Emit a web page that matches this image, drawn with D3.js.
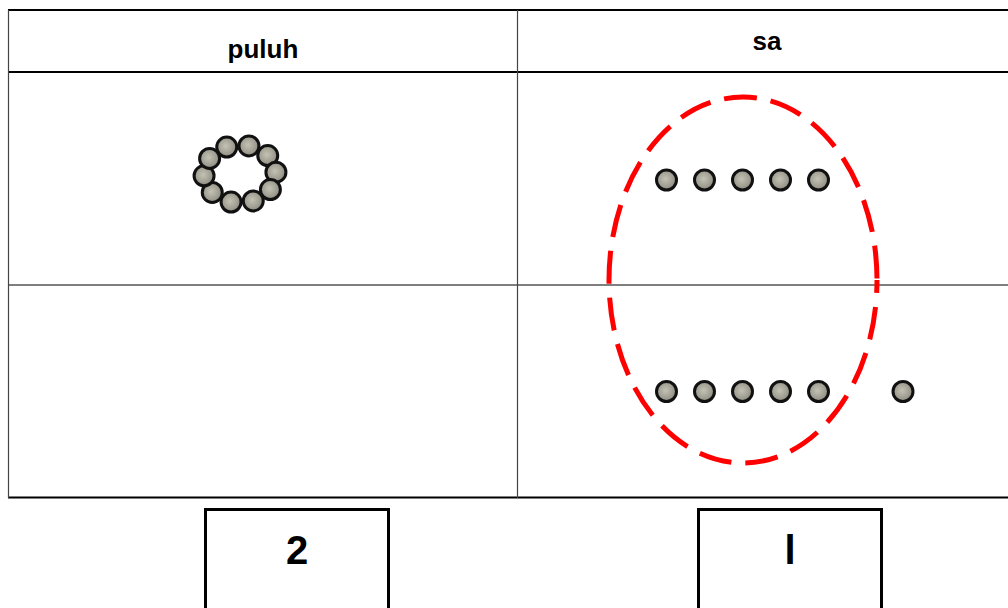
<!DOCTYPE html>
<html>
<head>
<meta charset="utf-8">
<script src="https://cdn.jsdelivr.net/npm/d3@7"></script>
<style>
  html, body { margin: 0; padding: 0; background: #fff; }
  svg { display: block; }
</style>
</head>
<body>
<svg id="chart" width="1008" height="608"></svg>
<script>
// ---- data ----
const headers = ["puluh", "sa"];
const answers = ["2", "l"];
const tensRingBeads = 10;           // one ten: a ring of 10 beads
const onesRows = [5, 6];            // loose ones: 5 on top row, 6 on bottom row

const svg = d3.select("#chart");
const W = 1008, H = 608;

// gradient for beads
const defs = svg.append("defs");
const grad = defs.append("radialGradient").attr("id", "bead").attr("cx", "45%").attr("cy", "45%").attr("r", "60%");
grad.append("stop").attr("offset", "0%").attr("stop-color", "#c4c2b4");
grad.append("stop").attr("offset", "70%").attr("stop-color", "#9c9a8e");
grad.append("stop").attr("offset", "100%").attr("stop-color", "#7e7c72");

const rowY = d3.scaleOrdinal().domain(["top", "header", "row1", "row2"]).range([10, 72, 285, 497.5]);

// lines
const g = svg.append("g");
[["top", 2.2], ["header", 2], ["row2", 2.2]].forEach(([k, w]) => {
  g.append("line").attr("x1", 8).attr("x2", W).attr("y1", rowY(k)).attr("y2", rowY(k))
    .attr("stroke", "#000").attr("stroke-width", w);
});
g.append("line").attr("x1", 8).attr("x2", W).attr("y1", rowY("row1")).attr("y2", rowY("row1"))
  .attr("stroke", "#000").attr("stroke-width", 1.2);
g.append("line").attr("x1", 8.5).attr("x2", 8.5).attr("y1", 10).attr("y2", 498)
  .attr("stroke", "#444").attr("stroke-width", 1.2);
g.append("line").attr("x1", 517.5).attr("x2", 517.5).attr("y1", 10).attr("y2", 498)
  .attr("stroke", "#444").attr("stroke-width", 1.2);

// header labels
const headerCx = [263, 767];
const headerBase = [58, 50];
svg.selectAll("text.hdr").data(headers).join("text")
  .attr("class", "hdr")
  .attr("x", (d, i) => headerCx[i])
  .attr("y", (d, i) => headerBase[i])
  .attr("text-anchor", "middle")
  .attr("font-family", "Liberation Sans, Arial, sans-serif")
  .attr("font-weight", "bold")
  .attr("font-size", 26)
  .attr("fill", "#000")
  .text(d => d);

// ring of 10 beads (tens)
const ang = d3.scaleLinear().domain([0, tensRingBeads]).range([-Math.PI * 0.62, Math.PI * 1.38]);
const ringCx = 240, ringCy = 174, ringRx = 36, ringRy = 29;
svg.append("g").selectAll("circle").data(d3.range(tensRingBeads)).join("circle")
  .attr("cx", i => ringCx + ringRx * Math.cos(ang(i)))
  .attr("cy", i => ringCy + ringRy * Math.sin(ang(i)))
  .attr("r", 10)
  .attr("fill", "url(#bead)")
  .attr("stroke", "#111")
  .attr("stroke-width", 3);

// ones beads
const onesX = d3.scaleLinear().domain([0, 4]).range([666.5, 818.5]);
const onesY = d3.scaleOrdinal().domain([0, 1]).range([180, 391.5]);
const onesData = [];
onesRows.forEach((n, r) => {
  for (let i = 0; i < n; i++) onesData.push({ row: r, x: i < 5 ? onesX(i) : 903 });
});
svg.append("g").selectAll("circle").data(onesData).join("circle")
  .attr("cx", d => d.x)
  .attr("cy", d => onesY(d.row))
  .attr("r", 10)
  .attr("fill", "url(#bead)")
  .attr("stroke", "#111")
  .attr("stroke-width", 3);

// dashed red ellipse grouping 10 ones
svg.append("ellipse")
  .attr("cx", 743).attr("cy", 280)
  .attr("rx", 134).attr("ry", 183)
  .attr("fill", "none")
  .attr("stroke", "#ff0000")
  .attr("stroke-width", 5)
  .attr("stroke-dasharray", "33 14")
  .attr("stroke-dashoffset", 20);

// answer boxes
const boxX = [205.5, 698.5];
svg.selectAll("rect.ans").data(answers).join("rect")
  .attr("class", "ans")
  .attr("x", (d, i) => boxX[i]).attr("y", 509.5)
  .attr("width", 183).attr("height", 110)
  .attr("fill", "#fff").attr("stroke", "#000").attr("stroke-width", 3);
svg.selectAll("text.ans").data(answers).join("text")
  .attr("class", "ans")
  .attr("x", (d, i) => boxX[i] + 91.5)
  .attr("y", 564)
  .attr("text-anchor", "middle")
  .attr("font-family", "Liberation Sans, Arial, sans-serif")
  .attr("font-weight", "bold")
  .attr("font-size", 40)
  .attr("fill", "#000")
  .text(d => d);
</script>
</body>
</html>
